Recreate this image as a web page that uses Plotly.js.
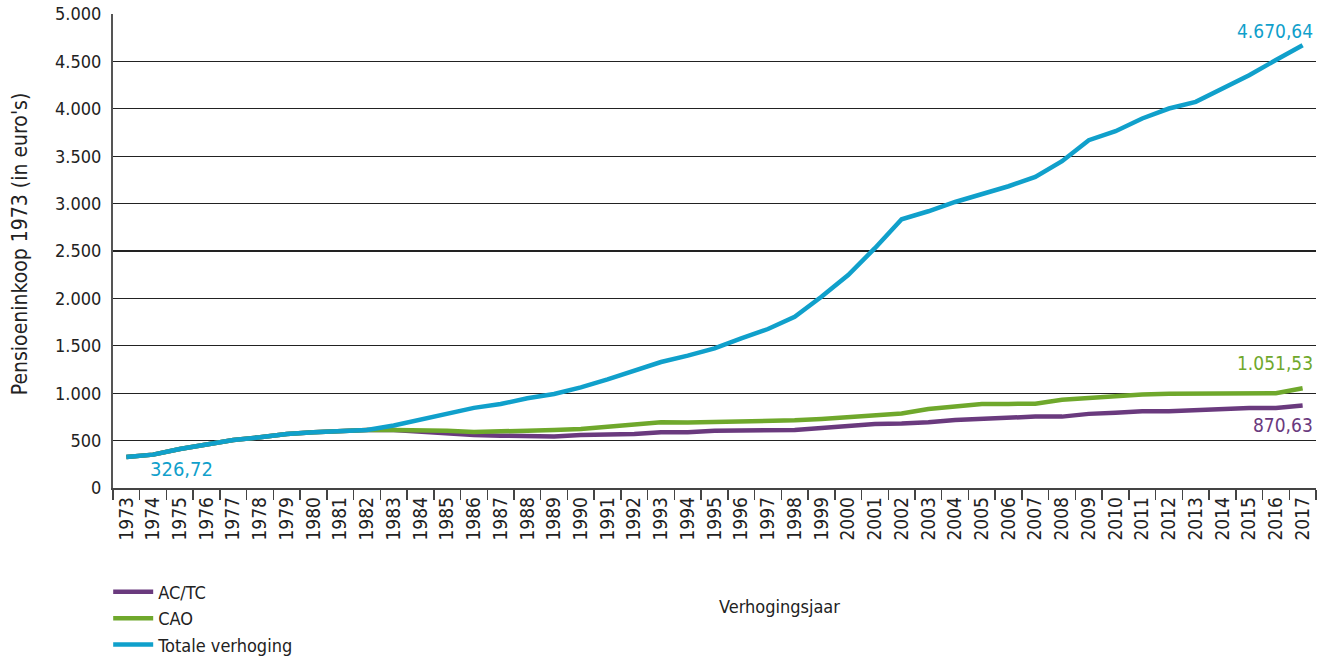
<!DOCTYPE html>
<html><head><meta charset="utf-8">
<script src="https://cdn.plot.ly/plotly-3.0.1.min.js"></script>
<style>body{margin:0;background:#fff}#c{width:1325px;height:657px}</style>
</head><body><div id="c"></div>
<script>
const years = [];
for (let y = 1973; y <= 2017; y++) years.push(String(y));

const acTc = [326.72,352,412,465,507,535,570,588,605,613,613,595,570,560,552,542,542,560,560,570,587,587,605,605,612,612,634,658,676,680,693,718,732,739,753,753,782,795,809,809,824,830,845,845,870.63];
const cao = [326.72,352,412,465,507,535,570,588,605,613,613,613,605,590,602,605,612,623,647,669,693,690,693,700,707,714,729,746,774,785,834,859,887,887,890,930,951,975,986,993,993,1000,1000,1000,1051.53];
const totaal = [326.72,352,412,465,507,535,570,588,605,613,660,718,781,845,886,946,991,1062,1146,1237,1329,1396,1473,1579,1677,1807,2018,2247,2530,2835,2919,3017,3095,3183,3281,3447,3669,3764,3898,4003,4073,4215,4355,4514,4670.64];

const names = ['AC/TC','CAO','Totale verhoging'];
const colors = ['#6a3a7e','#6fa82c','#10a0cb'];
const endLabels = ['870,63','1.051,53','4.670,64'];
const startLabel = '326,72';

const FONT = '"DejaVu Sans Condensed","Liberation Sans Narrow",Arial,sans-serif';
const series = [acTc, cao, totaal];
const traces = series.map((s, i) => ({
  x: years, y: s, type: 'scatter', mode: 'lines', name: names[i],
  line: {color: colors[i], width: 4.5, shape: 'linear'}
}));
const last = years.length - 1;

const layout = {
  width: 1325, height: 657,
  margin: {l: 113, r: 9, t: 14, b: 169, autoexpand: false},
  paper_bgcolor: '#fff', plot_bgcolor: '#fff',
  separators: ',.',
  font: {family: FONT, size: 18, color: '#222'},
  showlegend: true,
  legend: {x: -0.004, xanchor: 'left', y: 0.127, yref: 'container', yanchor: 'top', orientation: 'v',
           font: {family: FONT, size: 18, color: '#222'}, traceorder: 'normal',
           bgcolor: 'rgba(0,0,0,0)', itemwidth: 40},
  xaxis: {type: 'category', range: [-0.5, 44.5], tickangle: -90,
          ticks: 'outside', tickson: 'boundaries', ticklen: 10, tickcolor: '#444', tickwidth: 1.5,
          showline: true, linecolor: '#444', linewidth: 1.5, showgrid: false, zeroline: false,
          tickfont: {family: FONT, size: 19, color: '#222'}, fixedrange: true, automargin: false},
  yaxis: {range: [0, 5000], dtick: 500, tickformat: ',d', showgrid: true,
          gridcolor: '#222', gridwidth: 1.2, zeroline: false,
          showline: true, linecolor: '#555', linewidth: 2, ticks: '',
          tickfont: {family: FONT, size: 18, color: '#222'}, ticklabelstandoff: 6, fixedrange: true, automargin: false},
  annotations: [
    {text: 'Verhogingsjaar', xref: 'paper', yref: 'paper', x: 0.554, y: -0.25, xanchor: 'center', yanchor: 'middle', showarrow: false, font: {family: FONT, size: 18, color: '#222'}},
    {text: "Pensioeninkoop 1973 (in euro's)", xref: 'paper', yref: 'paper', x: -0.077, y: 0.515, xanchor: 'center', yanchor: 'middle', textangle: -90, showarrow: false, font: {family: FONT, size: 21, color: '#222'}},
    {text: startLabel, x: 1, y: series[2][0], xref: 'x', yref: 'y', xanchor: 'left', yanchor: 'top', xshift: -5, yshift: 2, showarrow: false, font: {family: FONT, size: 20, color: colors[2]}},
    {text: endLabels[2], x: last, y: series[2][last], xref: 'x', yref: 'y', xanchor: 'right', yanchor: 'bottom', xshift: 12, yshift: 1, showarrow: false, font: {family: FONT, size: 19, color: colors[2]}},
    {text: endLabels[1], x: last, y: series[1][last], xref: 'x', yref: 'y', xanchor: 'right', yanchor: 'bottom', xshift: 12, yshift: 12, showarrow: false, font: {family: FONT, size: 19, color: colors[1]}},
    {text: endLabels[0], x: last, y: series[0][last], xref: 'x', yref: 'y', xanchor: 'right', yanchor: 'top', xshift: 12, yshift: -7, showarrow: false, font: {family: FONT, size: 19, color: colors[0]}}
  ]
};
Plotly.newPlot('c', traces, layout, {displayModeBar: false, staticPlot: true});
</script></body></html>
